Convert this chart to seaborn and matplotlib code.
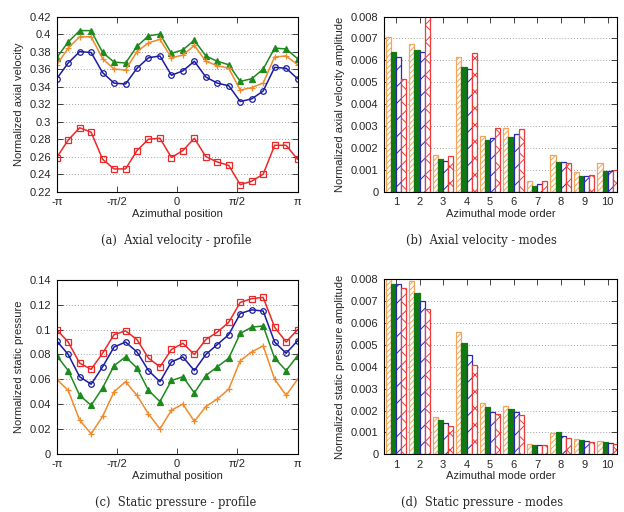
import numpy as np
import pandas as pd
import seaborn as sns
import matplotlib.pyplot as plt
from matplotlib.ticker import FormatStrFormatter

# azimuthal sampling positions (22 samples from -pi to pi)
theta = np.linspace(-np.pi, np.pi, 22)

# (a) axial velocity profiles
axial_green = [0.373, 0.391, 0.404, 0.404, 0.379, 0.368, 0.367, 0.386, 0.398, 0.400, 0.378,
               0.382, 0.393, 0.375, 0.369, 0.365, 0.346, 0.349, 0.360, 0.384, 0.383, 0.372]
axial_orange = [0.365, 0.384, 0.397, 0.397, 0.372, 0.360, 0.359, 0.380, 0.390, 0.394, 0.373,
                0.376, 0.387, 0.369, 0.364, 0.361, 0.336, 0.339, 0.344, 0.374, 0.375, 0.365]
axial_blue = [0.349, 0.367, 0.380, 0.379, 0.356, 0.344, 0.343, 0.361, 0.373, 0.375, 0.353,
              0.358, 0.369, 0.351, 0.344, 0.341, 0.323, 0.326, 0.335, 0.362, 0.361, 0.349]
axial_red = [0.259, 0.279, 0.293, 0.288, 0.257, 0.246, 0.246, 0.267, 0.280, 0.281, 0.259,
             0.267, 0.281, 0.260, 0.254, 0.250, 0.228, 0.232, 0.240, 0.273, 0.273, 0.257]

# (c) static pressure profiles
press_red = [0.100, 0.090, 0.073, 0.068, 0.081, 0.096, 0.099, 0.092, 0.077, 0.070, 0.084,
             0.089, 0.080, 0.092, 0.098, 0.106, 0.122, 0.125, 0.126, 0.102, 0.090, 0.100]
press_blue = [0.091, 0.080, 0.062, 0.056, 0.070, 0.086, 0.090, 0.082, 0.067, 0.058, 0.074,
              0.078, 0.067, 0.080, 0.088, 0.096, 0.113, 0.116, 0.115, 0.090, 0.081, 0.091]
press_green = [0.079, 0.067, 0.047, 0.039, 0.053, 0.071, 0.078, 0.069, 0.051, 0.042, 0.059,
               0.062, 0.049, 0.063, 0.070, 0.077, 0.097, 0.102, 0.103, 0.077, 0.067, 0.079]
press_orange = [0.060, 0.051, 0.027, 0.016, 0.030, 0.050, 0.058, 0.047, 0.032, 0.020, 0.035,
                0.040, 0.026, 0.038, 0.044, 0.052, 0.075, 0.082, 0.087, 0.060, 0.047, 0.060]

# (b) / (d) azimuthal mode amplitudes
modes = [1, 2, 3, 4, 5, 6, 7, 8, 9, 10]
cases = ["orange", "green", "blue", "red"]
axial_modes = {
    "orange": [0.00709, 0.00677, 0.00168, 0.00614, 0.00256, 0.00290, 0.00050, 0.00169, 0.00090, 0.00131],
    "green":  [0.00637, 0.00646, 0.00151, 0.00571, 0.00236, 0.00251, 0.00026, 0.00137, 0.00072, 0.00094],
    "blue":   [0.00617, 0.00637, 0.00142, 0.00559, 0.00244, 0.00262, 0.00037, 0.00136, 0.00073, 0.00094],
    "red":    [0.00517, 0.00810, 0.00163, 0.00635, 0.00293, 0.00288, 0.00050, 0.00133, 0.00078, 0.00099],
}
press_modes = {
    "orange": [0.00800, 0.00792, 0.00172, 0.00558, 0.00233, 0.00219, 0.00047, 0.00098, 0.00070, 0.00061],
    "green":  [0.00779, 0.00739, 0.00157, 0.00510, 0.00215, 0.00209, 0.00043, 0.00100, 0.00066, 0.00058],
    "blue":   [0.00777, 0.00699, 0.00142, 0.00453, 0.00195, 0.00192, 0.00044, 0.00084, 0.00061, 0.00052],
    "red":    [0.00759, 0.00663, 0.00131, 0.00410, 0.00183, 0.00180, 0.00041, 0.00073, 0.00055, 0.00049],
}

colors = {"orange": "#f08a2c", "green": "#1e8a1e", "blue": "#1c1ca0", "red": "#ec2828"}
bar_colors = {"orange": "#f5a55a", "green": "#127812", "blue": "#2828b4", "red": "#f03a3a"}
markers = {"orange": "+", "green": "^", "blue": "o", "red": "s"}
msizes = {"orange": 5, "green": 4.5, "blue": 4, "red": 4}
hatches = {"orange": "//////", "green": None, "blue": "//", "red": "xx"}

sns.set_style("ticks")
plt.rcParams["font.family"] = ["Liberation Sans", "DejaVu Sans"]
plt.rcParams["hatch.linewidth"] = 0.7
plt.rcParams["axes.linewidth"] = 0.8

fig = plt.figure(figsize=(6.24, 5.12), dpi=100)
ax_a = fig.add_axes([0.0909, 0.6256, 0.386, 0.342])
ax_b = fig.add_axes([0.6154, 0.6256, 0.373, 0.342])
ax_c = fig.add_axes([0.0909, 0.1140, 0.386, 0.339])
ax_d = fig.add_axes([0.6154, 0.1127, 0.373, 0.342])


def style_axes(ax):
    ax.tick_params(direction="in", top=True, right=True, length=4, width=0.6,
                   labelsize=8, pad=4)
    ax.yaxis.grid(True, linestyle=(0, (1, 2)), color="#a0a0a0", linewidth=0.7)
    ax.set_axisbelow(True)
    for s in ax.spines.values():
        s.set_color("black")


def profile_panel(ax, series, ylim, yticks, ylabel):
    for name, vals in series:
        mfc = colors[name] if name == "green" else "none"
        sns.lineplot(x=theta, y=vals, ax=ax, color=colors[name], marker=markers[name],
                     markersize=msizes[name], markerfacecolor=mfc,
                     markeredgecolor=colors[name], markeredgewidth=0.9,
                     linewidth=1.1, estimator=None, sort=False)
    ax.set_xlim(-np.pi, np.pi)
    ax.set_ylim(*ylim)
    ax.set_xticks([-np.pi, -np.pi / 2, 0, np.pi / 2, np.pi])
    ax.set_xticklabels(["-π", "-π/2", "0", "π/2", "π"])
    ax.set_yticks(yticks)
    ax.yaxis.set_major_formatter(FormatStrFormatter("%g"))
    ax.set_xlabel("Azimuthal position", fontsize=8, labelpad=1)
    ax.set_ylabel(ylabel, fontsize=8, labelpad=4)
    style_axes(ax)


def modes_panel(ax, data, ylabel):
    df = pd.DataFrame([{"mode": m, "case": c, "amp": v}
                       for c in cases for m, v in zip(modes, data[c])])
    sns.barplot(data=df, x="mode", y="amp", hue="case", hue_order=cases,
                palette=bar_colors, width=0.86, gap=0, saturation=1,
                legend=False, ax=ax)
    for cont, name in zip(ax.containers, cases):
        for bar in cont:
            if hatches[name] is None:
                bar.set_facecolor(bar_colors[name])
                bar.set_edgecolor(bar_colors[name])
            else:
                bar.set_facecolor("white")
                bar.set_edgecolor(bar_colors[name])
                bar.set_hatch(hatches[name])
            bar.set_linewidth(0.9)
    ax.set_xlim(-0.51, 9.39)
    ax.set_ylim(0, 0.008)
    ax.set_yticks(np.arange(0, 0.0081, 0.001))
    ax.yaxis.set_major_formatter(FormatStrFormatter("%g"))
    ax.set_xlabel("Azimuthal mode order", fontsize=8, labelpad=1)
    ax.set_ylabel(ylabel, fontsize=8, labelpad=4)
    style_axes(ax)


profile_panel(ax_a, [("green", axial_green), ("orange", axial_orange),
                     ("blue", axial_blue), ("red", axial_red)],
              (0.22, 0.42), np.arange(0.22, 0.4201, 0.02), "Normalized axial velocity")
profile_panel(ax_c, [("red", press_red), ("blue", press_blue),
                     ("green", press_green), ("orange", press_orange)],
              (0, 0.14), np.arange(0, 0.1401, 0.02), "Normalized static pressure")
modes_panel(ax_b, axial_modes, "Normalized axial velocity amplitude")
modes_panel(ax_d, press_modes, "Normalized static pressure amplitude")

cap = dict(ha="center", va="center", fontsize=8.3, family=["DejaVu Serif"])
fig.text(0.282, 0.531, "(a)  Axial velocity - profile", **cap)
fig.text(0.771, 0.531, "(b)  Axial velocity - modes", **cap)
fig.text(0.282, 0.018, "(c)  Static pressure - profile", **cap)
fig.text(0.773, 0.018, "(d)  Static pressure - modes", **cap)

fig.savefig("out.png", dpi=100)
